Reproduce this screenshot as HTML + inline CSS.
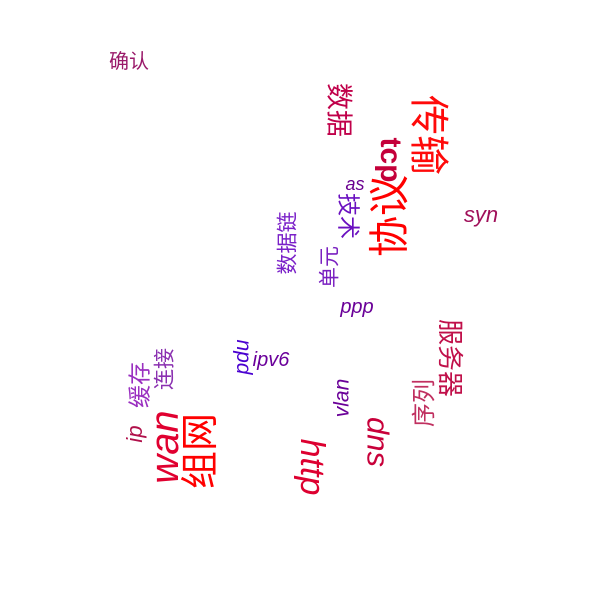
<!DOCTYPE html>
<html><head><meta charset="utf-8"><style>
html,body{margin:0;padding:0;background:#fff;}
#c{position:relative;width:600px;height:600px;overflow:hidden;font-family:"Liberation Sans","Noto Sans CJK SC",sans-serif;}
.w{position:absolute;white-space:nowrap;line-height:1;transform-origin:center;}
</style></head><body>
<div id="c"></div>
<script>
const words=["确认","syn","as","ppp","ipv6","协议","传输","tcp","数据","技术","单元","数据链","pdu","vlan","ip","wan","组网","缓存","连接","http","dns","服务器","序列"];
const xs=[129,481,355,357,271,390,428,390,338,348,330,288,242,342,135,165,201,140,165,312,378,450,425];
const ys=[62,215,184,307,360,216,135,160,110,216,267,243,357,398,434,447,451,385,369,467,442,358,403];
const sizes=[20,22,18,20,20,41,40,30,27,23,21,21,21,21,22,40,38,23,21,34,31,26,24];
const rots=[0,0,0,0,0,-90,90,90,90,90,-90,-90,-90,-90,-90,-90,-90,-90,-90,90,90,90,-90];
const colors=["#9a1a6a","#a0105a","#6a0090","#6a0098","#6a009a","#ff0000","#ff0a0a","#c4003a","#c0004a","#6a10c0","#7a20c0","#7a20c8","#4a00d0","#6a0098","#b0104a","#e00030","#ff0000","#9a30c0","#8a30b0","#dd0030","#c8003a","#c0104a","#c03060"];
const c=document.getElementById('c');
words.forEach((t,i)=>{
 const s=document.createElement('span');
 s.className='w';
 s.textContent=t;
 s.style.left=xs[i]+'px';s.style.top=ys[i]+'px';
 s.style.fontSize=sizes[i]+'px';s.style.color=colors[i];
 s.style.fontStyle=(/[a-z]/.test(t)&&t!=='tcp')?'italic':'normal';
 if(t==='tcp')s.style.fontWeight='bold';
 s.style.transform='translate(-50%,-50%) rotate('+rots[i]+'deg)';
 
 
 c.appendChild(s);
});
</script>
</body></html>
